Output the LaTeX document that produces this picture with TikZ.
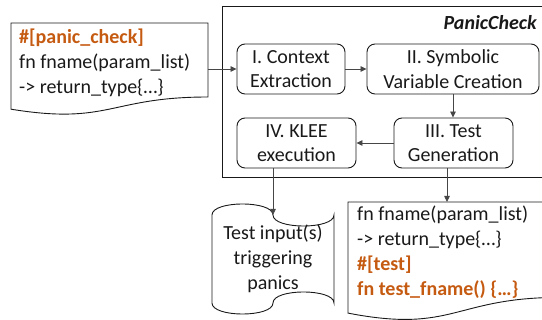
\documentclass[tikz,border=0pt]{standalone}
\usepackage{fontspec}
\setmainfont{Carlito}
\usetikzlibrary{arrows.meta,calc}
\definecolor{rustorange}{RGB}{197,90,17}
\definecolor{edgegray}{RGB}{70,70,70}
\definecolor{inkblack}{RGB}{25,25,25}
\begin{document}
\begin{tikzpicture}[x=1pt,y=-1pt,
  stage/.style={draw=inkblack, line width=0.9pt, rounded corners=8pt, align=center,
    inner sep=0pt, text=inkblack, font=\fontsize{20}{24.5}\selectfont},
  conn/.style={draw=edgegray, line width=0.8pt, -{Triangle[length=6pt,width=5.5pt]}},
  shapeline/.style={draw=inkblack, line width=0.9pt},
  codeline/.style={anchor=base west, inner sep=0pt, text=inkblack, font=\fontsize{20}{24}\selectfont},
  codehot/.style={codeline, text=rustorange, font=\fontsize{20}{24}\selectfont\bfseries},
  tapeline/.style={anchor=base, inner sep=0pt, text=inkblack, font=\fontsize{20}{24}\selectfont},
]
\useasboundingbox (0,0) rectangle (542,320);
\clip (0,0) rectangle (542,320);

% outer PanicCheck frame
\node[draw=inkblack, line width=0.9pt, minimum width=326pt, minimum height=171pt, inner sep=0pt] (frame) at (385,91.5) {};
\node[anchor=base east, inner sep=0pt, text=inkblack, font=\fontsize{20}{24}\selectfont\bfseries\itshape] (title) at (537,29.5) {PanicCheck};

% stages
\node[stage, minimum width=108pt, minimum height=50pt] (s1) at (291,69) {I. Context\\Extraction};
\node[stage, minimum width=172pt, minimum height=50pt] (s2) at (453,69) {II. Symbolic\\Variable Creation};
\node[stage, minimum width=119pt, minimum height=50pt] (s3) at (453.5,143) {III. Test\\Generation};
\node[stage, minimum width=119pt, minimum height=50pt] (s4) at (296.5,143) {IV. KLEE\\execution};

% input document
\draw[shapeline] (11,23) -- (208,23) -- (208,97) .. controls (109.5,97) and (109.5,125.2) .. (11,109.2) -- cycle;
\coordinate (srcout) at (208,69);
\node[codehot] (src1) at (19,44) {\#[panic\_check]};
\node[codeline] (src2) at (19,69) {fn fname(param\_list)};
\node[codeline] (src3) at (19,94) {-> return\_type\{…\}};

% test inputs (punched tape)
\draw[shapeline] (212,215) .. controls (212,200.3) and (273,200.3) .. (273,215)
  .. controls (273,229.7) and (334,229.7) .. (334,215) -- (334,303)
  .. controls (334,288.3) and (273,288.3) .. (273,303)
  .. controls (273,317.7) and (212,317.7) .. (212,303) -- cycle;
\coordinate (tapetop) at (273,215);
\node[tapeline] (t1) at (273,240) {Test input(s)};
\node[tapeline] (t2) at (273,265) {triggering};
\node[tapeline] (t3) at (273,290) {panics};

% output document
\draw[shapeline] (348,202) -- (560,202) -- (560,297.4) .. controls (454,297.4) and (454,333.7) .. (348,313.1) -- cycle;
\coordinate (outtop) at (447,202);
\node[codeline] (o1) at (357,221) {fn fname(param\_list)};
\node[codeline] (o2) at (357,246) {-> return\_type\{…\}};
\node[codehot] (o3) at (357,271) {\#[test]};
\node[codehot] (o4) at (357,296) {fn test\_fname() \{…\}};

% connectors
\draw[conn] (srcout) -- (s1.west);
\draw[conn] (s1.east) -- (s2.west);
\draw[conn] (s2.south) -- (s2.south |- s3.north);
\draw[conn] (s3.west) -- (s3.west -| s4.east);
\draw[conn] (s4.south -| tapetop) -- (tapetop);
\draw[conn] (s3.south -| outtop) -- (outtop);
\end{tikzpicture}
\end{document}
